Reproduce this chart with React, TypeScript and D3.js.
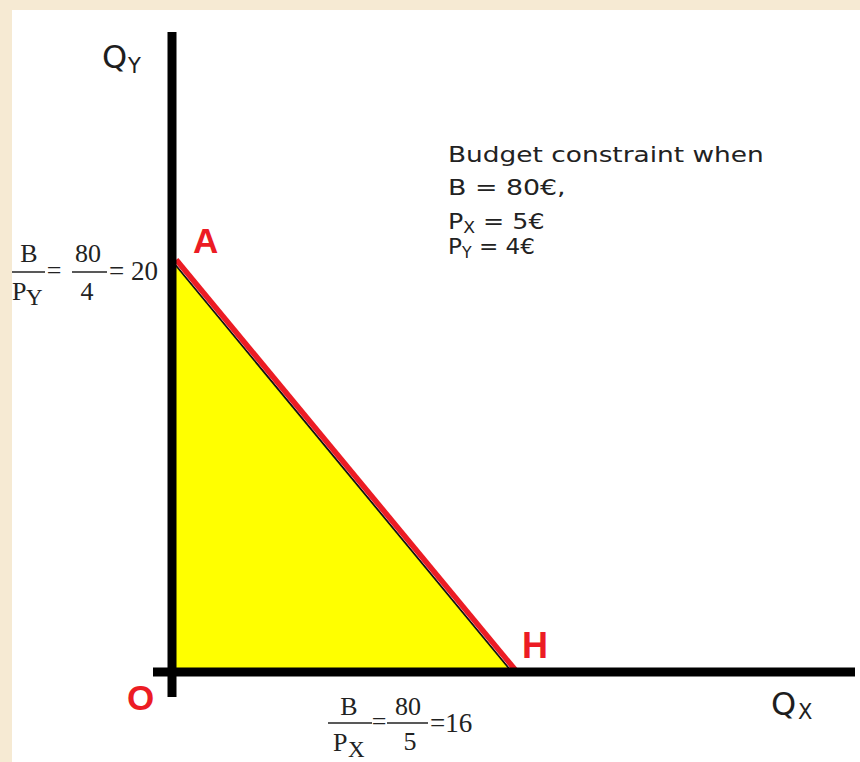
import React from "react";
import * as d3 from "d3";

// ---- data ----
const BUDGET = 80;
const PRICE_X = 5;
const PRICE_Y = 4;
const QX_INTERCEPT = 16;
const QY_INTERCEPT = 20;
const xDomain = [0, 16];
const yDomain = [0, 20];
const noteTitle = "Budget constraint when";
const noteBudget = "B = 80€,";
const notePx = " = 5€";
const notePy = " = 4€";
const axisNames = ["Q", "Y", "Q", "X"];
const pointLabels = ["A", "H", "O"];

const W = 860;
const H = 762;
const RED = "#ec1c24";
const INK = "#1e1e1e";
const SERIF = "'Liberation Serif', 'DejaVu Serif', serif";
const SANS = "'DejaVu Sans', Verdana, sans-serif";
const ARIAL = "'Liberation Sans', Arial, sans-serif";

export default function App() {
  const x = d3.scaleLinear().domain(xDomain).range([173, 512]);
  const y = d3.scaleLinear().domain(yDomain).range([672, 262]);

  const triangle = [
    [x(0), y(0)],
    [x(0), y(QY_INTERCEPT)],
    [x(QX_INTERCEPT), y(0)],
  ] as [number, number][];
  const area = d3.line()(triangle.concat([triangle[0]])) as string;
  const budgetLine = d3.line()([
    [x(0), y(QY_INTERCEPT)],
    [x(QX_INTERCEPT), y(0)],
  ]) as string;

  return (
    <svg
      width={W}
      height={H}
      style={{ position: "absolute", left: 0, top: 0, display: "block" }}
    >
      <rect x={0} y={0} width={W} height={H} fill="#f6ead3" />
      <rect x={12} y={10} width={W - 12} height={H - 10} fill="#ffffff" />

      {/* feasible set */}
      <path d={area} fill="#ffff00" stroke="none" />
      <path d={budgetLine} fill="none" stroke="#111" strokeWidth={1.8} />
      <path
        d={budgetLine}
        transform="translate(3.2,-2.2)"
        fill="none"
        stroke={RED}
        strokeWidth={5.5}
      />

      {/* axes */}
      <line x1={x(0) - 1} x2={x(0) - 1} y1={32} y2={697} stroke="#000" strokeWidth={9} />
      <line x1={153} x2={855} y1={y(0)} y2={y(0)} stroke="#000" strokeWidth={9} />

      {/* axis names */}
      <text x={102} y={68} fontFamily={SANS} fontSize={32} fill={INK}>
        {axisNames[0]}
      </text>
      <text x={128} y={73} fontFamily={SANS} fontSize={21} fill={INK}>
        {axisNames[1]}
      </text>
      <text x={771} y={715} fontFamily={SANS} fontSize={32} fill={INK}>
        {axisNames[2]}
      </text>
      <text x={798} y={719} fontFamily={SANS} fontSize={21} fill={INK}>
        {axisNames[3]}
      </text>

      {/* point labels */}
      <text x={193} y={253} fontFamily={ARIAL} fontWeight="bold" fontSize={35} fill={RED}>
        {pointLabels[0]}
      </text>
      <text x={522} y={658} fontFamily={ARIAL} fontWeight="bold" fontSize={36} fill={RED}>
        {pointLabels[1]}
      </text>
      <text x={127} y={710} fontFamily={ARIAL} fontWeight="bold" fontSize={35} fill={RED}>
        {pointLabels[2]}
      </text>

      {/* note */}
      <text transform="translate(448,162) scale(1.2,1)" fontFamily={SANS} fontSize={22} fill="#222">
        {noteTitle}
      </text>
      <text transform="translate(448,195) scale(1.22,1)" fontFamily={SANS} fontSize={22} fill="#222">
        {noteBudget}
      </text>
      <text transform="translate(448,229) scale(1.15,1)" fontFamily={SANS} fontSize={22} fill="#222">
        <tspan>P</tspan>
        <tspan fontSize={15} dy={4}>X</tspan>
        <tspan dy={-4}>{notePx}</tspan>
      </text>
      <text transform="translate(448,254) scale(1.05,1)" fontFamily={SANS} fontSize={22} fill="#222">
        <tspan>P</tspan>
        <tspan fontSize={15} dy={4}>Y</tspan>
        <tspan dy={-4}>{notePy}</tspan>
      </text>

      {/* Y intercept fraction */}
      <g fontFamily={SERIF} fill="#222" fontSize={26}>
        <text x={29} y={262} textAnchor="middle">B</text>
        <line x1={12} x2={45} y1={272} y2={272} stroke="#222" strokeWidth={1.6} />
        <text x={12} y={300}>P</text>
        <text x={26} y={305} fontSize={23}>Y</text>
        <text x={54} y={279} textAnchor="middle">=</text>
        <text x={88} y={262} textAnchor="middle">{BUDGET}</text>
        <line x1={72} x2={107} y1={272} y2={272} stroke="#222" strokeWidth={1.6} />
        <text x={87} y={300} textAnchor="middle">{PRICE_Y}</text>
        <text x={109} y={280} fontSize={27}>{"= " + QY_INTERCEPT}</text>
      </g>

      {/* X intercept fraction */}
      <g fontFamily={SERIF} fill="#222" fontSize={26}>
        <text x={349} y={715} textAnchor="middle">B</text>
        <line x1={328} x2={372} y1={723} y2={723} stroke="#222" strokeWidth={1.6} />
        <text x={333} y={751}>P</text>
        <text x={348} y={757} fontSize={23}>X</text>
        <text x={379} y={730} textAnchor="middle">=</text>
        <text x={408} y={715} textAnchor="middle">{BUDGET}</text>
        <line x1={387} x2={428} y1={723} y2={723} stroke="#222" strokeWidth={1.6} />
        <text x={410} y={750} textAnchor="middle">{PRICE_X}</text>
        <text x={430} y={732} fontSize={27}>{"=" + QX_INTERCEPT}</text>
      </g>
    </svg>
  );
}
